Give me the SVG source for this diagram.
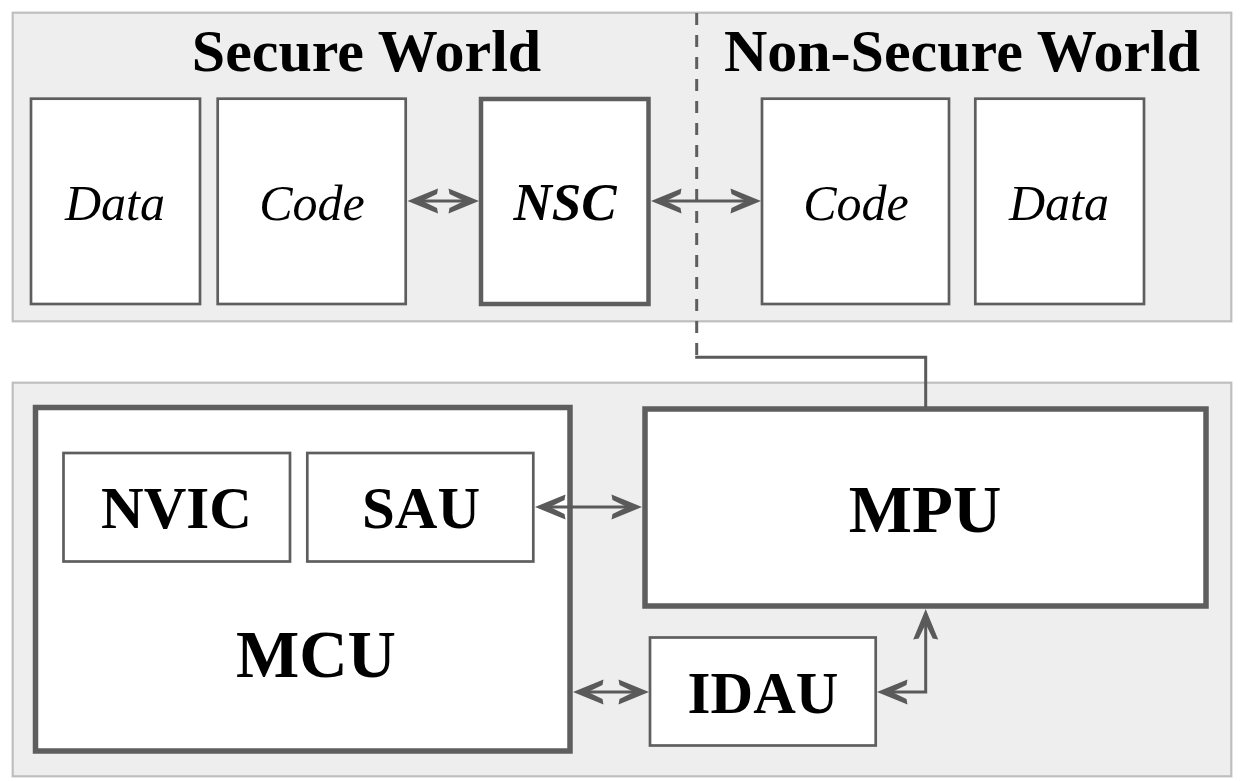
<svg xmlns="http://www.w3.org/2000/svg" width="1247" height="781" viewBox="0 0 1247 781">
  <style>
    .panel { fill: #eeeeee; stroke: #bebebe; stroke-width: 2.2; }
    .box { fill: #ffffff; stroke: #5e5e5e; stroke-width: 2.7; }
    .thick { fill: #ffffff; stroke: #5e5e5e; stroke-width: 5.5; }
    .conn { fill: none; stroke: #5a5a5a; stroke-width: 3; }
    .dash { fill: none; stroke: #5e5e5e; stroke-width: 3; stroke-dasharray: 12 10; }
    .title { font-family: "Liberation Serif", "Times New Roman", serif; font-weight: bold; font-size: 60px; fill: #000; text-anchor: middle; }
    .mem { font-family: "Liberation Serif", "Times New Roman", serif; font-style: italic; font-size: 50px; fill: #000; text-anchor: middle; }
    .nsc { font-family: "Liberation Serif", "Times New Roman", serif; font-style: italic; font-weight: bold; font-size: 53px; fill: #000; text-anchor: middle; }
    .hw { font-family: "Liberation Serif", "Times New Roman", serif; font-weight: bold; font-size: 59px; fill: #000; text-anchor: middle; }
    .big { font-family: "Liberation Serif", "Times New Roman", serif; font-weight: bold; font-size: 67px; fill: #000; text-anchor: middle; }
  </style>
  <defs>
    <marker id="arrow" markerUnits="userSpaceOnUse" orient="auto-start-reverse" refX="-12" refY="0" markerWidth="40" markerHeight="30" viewBox="-34 -15 40 30" overflow="visible">
      <path d="M0,0 L-30.5,-12.5 L-29.5,-7 L-15,0 L-29.5,7 L-30.5,12.5 Z" fill="#5a5a5a"/>
    </marker>
  </defs>

  <!-- Panels -->
  <g id="secure-panel">
    <rect class="panel" x="12.7" y="12.7" width="1218.6" height="308.6"/>
  </g>
  <g id="hw-panel">
    <rect class="panel" x="12.7" y="382.7" width="1218.6" height="393.6"/>
  </g>

  <!-- Titles -->
  <g id="title-secure"><text class="title" x="366.5" y="71">Secure World</text></g>
  <g id="title-nonsecure"><text class="title" x="962" y="71">Non-Secure World</text></g>

  <!-- Secure world nodes -->
  <g id="s-data">
    <rect class="box" x="31" y="98.7" width="169" height="205.3"/>
    <text class="mem" x="115" y="220">Data</text>
  </g>
  <g id="s-code">
    <rect class="box" x="217.7" y="98.7" width="188" height="205.3"/>
    <text class="mem" x="312" y="220">Code</text>
  </g>
  <g id="nsc">
    <rect class="thick" x="481" y="99" width="167.5" height="205" style="stroke-width:4.5"/>
    <text class="nsc" x="565" y="220">NSC</text>
  </g>

  <!-- Non-secure world nodes -->
  <g id="ns-code">
    <rect class="box" x="762" y="98.7" width="187" height="205.3"/>
    <text class="mem" x="856" y="220">Code</text>
  </g>
  <g id="ns-data">
    <rect class="box" x="975.3" y="98.7" width="168.7" height="205.3"/>
    <text class="mem" x="1059" y="220">Data</text>
  </g>

  <!-- Hardware -->
  <g id="mcu">
    <rect class="thick" x="35.5" y="407.5" width="534.5" height="343.5"/>
    <text class="big" x="316" y="677">MCU</text>
  </g>
  <g id="nvic">
    <rect class="box" x="63.5" y="453" width="226.5" height="108.5"/>
    <text class="hw" x="176.5" y="528">NVIC</text>
  </g>
  <g id="sau">
    <rect class="box" x="307.3" y="453" width="226" height="108.5"/>
    <text class="hw" x="421" y="528">SAU</text>
  </g>
  <g id="mpu">
    <rect class="thick" x="645" y="409" width="561" height="197"/>
    <text class="big" x="925" y="532">MPU</text>
  </g>
  <g id="idau">
    <rect class="box" x="650" y="637.5" width="225.7" height="108"/>
    <text class="hw" x="763" y="713">IDAU</text>
  </g>

  <!-- Connectors -->
  <g id="connectors">
    <path class="dash" d="M696.7,13 V357.3"/>
    <path class="conn" d="M925.7,407 V357.3 H695.2"/>
    <line class="conn" x1="419.5" y1="201" x2="467" y2="201" marker-start="url(#arrow)" marker-end="url(#arrow)"/>
    <line class="conn" x1="663" y1="201" x2="749" y2="201" marker-start="url(#arrow)" marker-end="url(#arrow)"/>
    <line class="conn" x1="547" y1="507" x2="630" y2="507" marker-start="url(#arrow)" marker-end="url(#arrow)"/>
    <line class="conn" x1="585" y1="692" x2="637" y2="692" marker-start="url(#arrow)" marker-end="url(#arrow)"/>
    <path class="conn" d="M889,692 H925.7 V621" marker-start="url(#arrow)" marker-end="url(#arrow)"/>
  </g>
</svg>
